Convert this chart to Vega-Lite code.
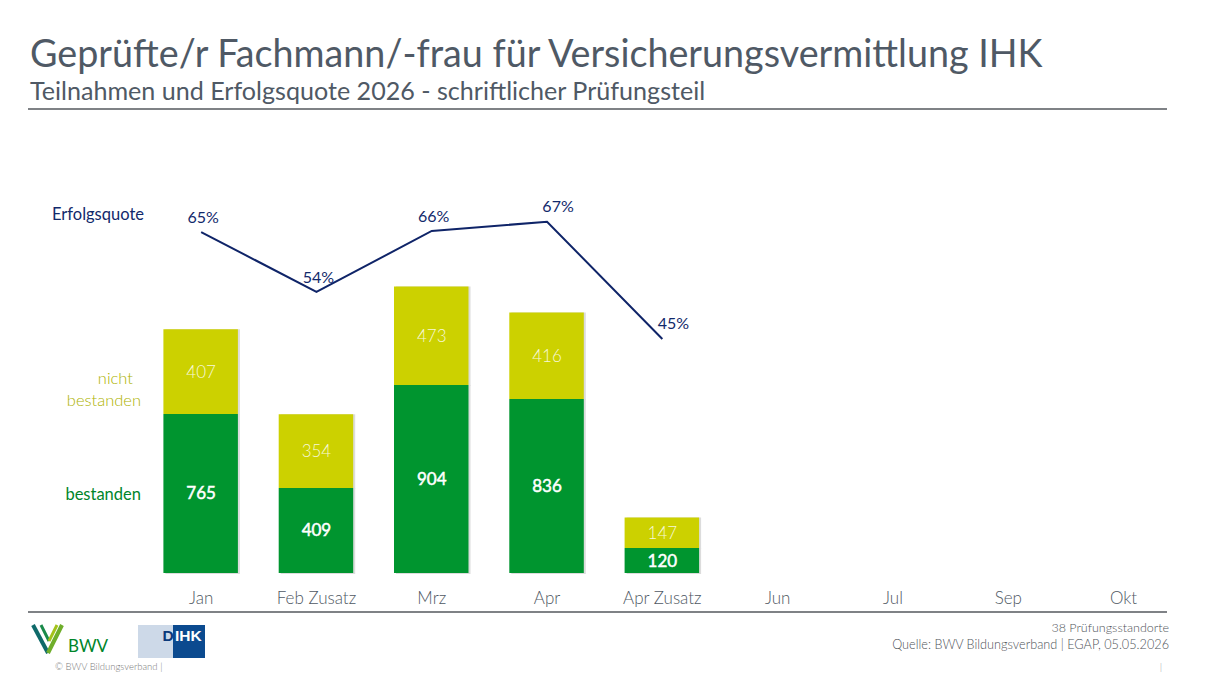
{
  "$schema": "https://vega.github.io/schema/vega-lite/v6.json",
  "description": "Teilnahmen und Erfolgsquote 2026 - schriftlicher Pruefungsteil",
  "autosize": "none",
  "width": 1037.7,
  "height": 463,
  "padding": {"left": 143.5, "top": 110, "right": 48.8, "bottom": 118},
  "background": "white",
  "title": {
    "text": "Geprüfte/r Fachmann/-frau für Versicherungsvermittlung IHK",
    "subtitle": "Teilnahmen und Erfolgsquote 2026 - schriftlicher Prüfungsteil",
    "anchor": "start",
    "frame": "group",
    "dx": -113.5,
    "offset": 3,
    "font": "Lato",
    "fontSize": 37.7,
    "fontWeight": "normal",
    "color": "#4f5965",
    "subtitleFont": "Lato",
    "subtitleFontSize": 25.1,
    "subtitleColor": "#4f5965",
    "subtitlePadding": 6
  },
  "config": {
    "view": {"stroke": null},
    "font": "Lato",
    "axisQuantitative": {"disable": true}
  },
  "datasets": {
    "counts": [
      {"month": "Jan", "status": "bestanden", "count": 765},
      {"month": "Jan", "status": "nicht bestanden", "count": 407},
      {"month": "Feb Zusatz", "status": "bestanden", "count": 409},
      {"month": "Feb Zusatz", "status": "nicht bestanden", "count": 354},
      {"month": "Mrz", "status": "bestanden", "count": 904},
      {"month": "Mrz", "status": "nicht bestanden", "count": 473},
      {"month": "Apr", "status": "bestanden", "count": 836},
      {"month": "Apr", "status": "nicht bestanden", "count": 416},
      {"month": "Apr Zusatz", "status": "bestanden", "count": 120},
      {"month": "Apr Zusatz", "status": "nicht bestanden", "count": 147}
    ],
    "rates": [
      {"month": "Jan", "rate": 65, "label": "65%"},
      {"month": "Feb Zusatz", "rate": 53.9, "label": "54%"},
      {"month": "Mrz", "rate": 65.2, "label": "66%"},
      {"month": "Apr", "rate": 66.9, "label": "67%"},
      {"month": "Apr Zusatz", "rate": 45.2, "label": "45%"}
    ]
  },
  "layer": [
    {
      "data": {"name": "counts"},
      "transform": [
        {"stack": "count", "groupby": ["month"], "sort": [{"field": "status", "order": "ascending"}], "as": ["low", "high"]},
        {"calculate": "(datum.low + datum.high) / 2", "as": "mid"}
      ],
      "encoding": {
        "x": {
          "field": "month",
          "type": "nominal",
          "sort": null,
          "title": null,
          "scale": {
            "domain": ["Jan", "Feb Zusatz", "Mrz", "Apr", "Apr Zusatz", "Jun", "Jul", "Sep", "Okt"],
            "paddingInner": 0,
            "paddingOuter": 0
          },
          "axis": {
            "domain": false,
            "ticks": false,
            "labelAngle": 0,
            "labelFont": "Lato",
            "labelFontWeight": 300,
            "labelFontSize": 17,
            "labelColor": "#4f5863",
            "labelPadding": 17
          }
        }
      },
      "layer": [
        {
          "mark": {"type": "bar", "size": 74.5, "color": "#dcdcdc", "xOffset": 1.5, "yOffset": 1},
          "encoding": {
            "y": {"field": "low", "type": "quantitative", "scale": {"domain": [0, 2226], "nice": false, "zero": false}},
            "y2": {"field": "high"}
          }
        },
        {
          "mark": {"type": "bar", "size": 74.5, "xOffset": -0.5},
          "encoding": {
            "y": {"field": "low", "type": "quantitative"},
            "y2": {"field": "high"},
            "color": {
              "field": "status",
              "type": "nominal",
              "legend": null,
              "scale": {"domain": ["bestanden", "nicht bestanden"], "range": ["#00952f", "#ccd100"]}
            }
          }
        },
        {
          "transform": [{"filter": "datum.status == 'bestanden'"}],
          "mark": {"type": "text", "font": "Lato", "fontSize": 17, "color": "white", "stroke": "white", "strokeWidth": 0.5, "dy": 1},
          "encoding": {
            "y": {"field": "mid", "type": "quantitative"},
            "text": {"field": "count", "type": "quantitative"}
          }
        },
        {
          "transform": [{"filter": "datum.status != 'bestanden'"}],
          "mark": {"type": "text", "font": "Lato", "fontSize": 17, "fontWeight": 300, "color": "#f7f8d8", "dy": 1},
          "encoding": {
            "y": {"field": "mid", "type": "quantitative"},
            "text": {"field": "count", "type": "quantitative"}
          }
        }
      ]
    },
    {
      "data": {"name": "rates"},
      "encoding": {
        "x": {
          "field": "month",
          "type": "nominal",
          "sort": null,
          "axis": null,
          "scale": {
            "domain": ["Jan", "Feb Zusatz", "Mrz", "Apr", "Apr Zusatz", "Jun", "Jul", "Sep", "Okt"],
            "paddingInner": 0,
            "paddingOuter": 0
          }
        },
        "y": {"field": "rate", "type": "quantitative", "scale": {"domain": [1.85, 87.6], "nice": false, "zero": false}},
        "text": {"field": "label", "type": "nominal"}
      },
      "layer": [
        {"mark": {"type": "line", "color": "#0f2468", "strokeWidth": 2}},
        {
          "transform": [{"filter": "datum.rate < 66 && datum.rate > 50"}],
          "mark": {"type": "text", "font": "Lato", "fontSize": 16, "color": "#12296b", "dx": 2, "dy": -14}
        },
        {
          "transform": [{"filter": "datum.rate > 66 || datum.rate < 50"}],
          "mark": {"type": "text", "font": "Lato", "fontSize": 16, "color": "#12296b", "dx": 11, "dy": -15}
        }
      ]
    },
    {
      "data": {"values": [{"part": "decor"}]},
      "layer": [
        {
          "mark": {"type": "rule", "color": "#55595e", "strokeWidth": 1.3},
          "encoding": {
            "x": {"datum": 28, "scale": {"domain": [143.5, 1181.2], "nice": false, "zero": false}},
            "x2": {"datum": 1167},
            "y": {"datum": 109, "scale": {"domain": [573, 110], "nice": false, "zero": false}}
          }
        },
        {
          "mark": {"type": "rule", "color": "#55595e", "strokeWidth": 1.3},
          "encoding": {"x": {"datum": 28}, "x2": {"datum": 1167}, "y": {"datum": 612}}
        },
        {
          "mark": {"type": "text", "text": "Erfolgsquote", "align": "right", "font": "Lato", "fontSize": 16.5, "color": "#12296b"},
          "encoding": {"x": {"datum": 144}, "y": {"datum": 215}}
        },
        {
          "mark": {"type": "text", "text": "nicht", "align": "right", "font": "Lato", "fontSize": 16.5, "fontWeight": 300, "color": "#adb200"},
          "encoding": {"x": {"datum": 133}, "y": {"datum": 379}}
        },
        {
          "mark": {"type": "text", "text": "bestanden", "align": "right", "font": "Lato", "fontSize": 16.5, "fontWeight": 300, "color": "#adb200"},
          "encoding": {"x": {"datum": 141}, "y": {"datum": 401}}
        },
        {
          "mark": {"type": "text", "text": "bestanden", "align": "right", "font": "Lato", "fontSize": 16.5, "color": "#00852a"},
          "encoding": {"x": {"datum": 141}, "y": {"datum": 495}}
        },
        {
          "mark": {"type": "text", "text": "38 Prüfungsstandorte", "align": "right", "font": "Lato", "fontWeight": 300, "fontSize": 12.5, "color": "#4f5459"},
          "encoding": {"x": {"datum": 1169}, "y": {"datum": 628}}
        },
        {
          "mark": {"type": "text", "text": "Quelle: BWV Bildungsverband | EGAP, 05.05.2026", "align": "right", "font": "Lato", "fontWeight": 300, "fontSize": 12.7, "color": "#4f5459"},
          "encoding": {"x": {"datum": 1169}, "y": {"datum": 645}}
        },
        {
          "mark": {"type": "text", "text": "|", "font": "Lato", "fontWeight": 300, "fontSize": 10, "color": "#9a9a9a"},
          "encoding": {"x": {"datum": 1161}, "y": {"datum": 667}}
        },
        {
          "mark": {"type": "text", "text": "©  BWV Bildungsverband  |", "align": "left", "font": "Lato", "fontWeight": 300, "fontSize": 9.5, "color": "#7a7a7a"},
          "encoding": {"x": {"datum": 55}, "y": {"datum": 667}}
        },
        {
          "mark": {"type": "rule", "color": "#0f6a6a", "strokeWidth": 4},
          "encoding": {"x": {"datum": 33}, "x2": {"datum": 48}, "y": {"datum": 625}, "y2": {"datum": 653}}
        },
        {
          "mark": {"type": "rule", "color": "#1a8a4a", "strokeWidth": 3},
          "encoding": {"x": {"datum": 41}, "x2": {"datum": 49}, "y": {"datum": 625}, "y2": {"datum": 641}}
        },
        {
          "mark": {"type": "rule", "color": "#6fae2a", "strokeWidth": 4},
          "encoding": {"x": {"datum": 48}, "x2": {"datum": 62}, "y": {"datum": 653}, "y2": {"datum": 625}}
        },
        {
          "mark": {"type": "rule", "color": "#a3c21a", "strokeWidth": 3},
          "encoding": {"x": {"datum": 49}, "x2": {"datum": 57}, "y": {"datum": 641}, "y2": {"datum": 625}}
        },
        {
          "mark": {"type": "text", "text": "BWV", "align": "left", "font": "Lato", "fontSize": 17, "color": "#00852a"},
          "encoding": {"x": {"datum": 68}, "y": {"datum": 647}}
        },
        {
          "mark": {"type": "rect", "color": "#cdd9e8"},
          "encoding": {"x": {"datum": 138}, "x2": {"datum": 205}, "y": {"datum": 625}, "y2": {"datum": 658}}
        },
        {
          "mark": {"type": "rect", "color": "#0b4a8f"},
          "encoding": {"x": {"datum": 173}, "x2": {"datum": 205}, "y": {"datum": 625}, "y2": {"datum": 658}}
        },
        {
          "mark": {"type": "text", "text": "D", "align": "left", "font": "Liberation Sans", "fontWeight": "bold", "fontSize": 15.5, "color": "#0b3a7a"},
          "encoding": {"x": {"datum": 162.5}, "y": {"datum": 636}}
        },
        {
          "mark": {"type": "text", "text": "IHK", "align": "left", "font": "Liberation Sans", "fontWeight": "bold", "fontSize": 15.5, "color": "white"},
          "encoding": {"x": {"datum": 175}, "y": {"datum": 636}}
        }
      ]
    }
  ],
  "resolve": {"scale": {"x": "independent", "y": "independent", "color": "independent"}}
}
